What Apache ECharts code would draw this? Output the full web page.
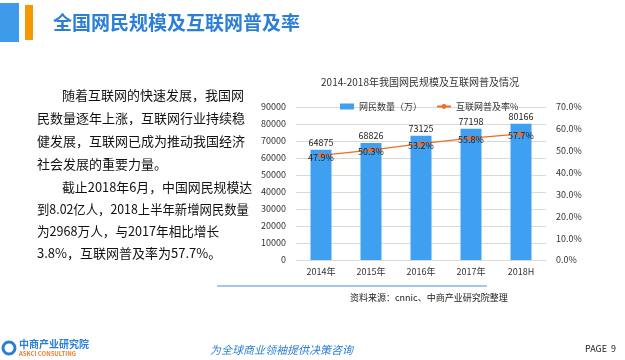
<!DOCTYPE html>
<html><head><meta charset="utf-8">
<script src="https://cdn.jsdelivr.net/npm/echarts@6/dist/echarts.min.js"></script>
<style>html,body{margin:0;padding:0;background:#fff}#c{width:625px;height:360px}</style>
</head><body><div id="c"></div>
<script>
const categories = ['2014年','2015年','2016年','2017年','2018H'];
const netizens = [64875, 68826, 73125, 77198, 80166];
const rate = [47.9, 50.3, 53.2, 55.8, 57.7];
const leftTicks = {min:0, max:90000, interval:10000};
const rightTicks = {min:0, max:70, interval:10};
const paragraphLines = [
  ['随着互联网的快速发展，我国网', 62],
  ['民数量逐年上涨，互联网行业持续稳', 37],
  ['健发展，互联网已成为推动我国经济', 37],
  ['社会发展的重要力量。', 37],
  ['截止2018年6月，中国网民规模达', 62],
  ['到8.02亿人，2018上半年新增网民数量', 37],
  ['为2968万人，与2017年相比增长', 37],
  ['3.8%，互联网普及率为57.7%。', 37]
];
const lineYs = [95,118,141,164,187,209,231,253];
const lineScale = [1,1,1,1,0.99,0.95,0.97,1];
const F = '"Noto Sans CJK SC", "Noto Sans", sans-serif';
const chart = echarts.init(document.getElementById('c'));
const graphics = [
  {type:'rect', shape:{x:0,y:3,width:19,height:39}, style:{fill:'#3d9be9'}},
  {type:'rect', shape:{x:25,y:5,width:8,height:35}, style:{fill:'#f39800'}},
  {type:'text', x:53, y:23, style:{text:'全国网民规模及互联网普及率', fill:'#2b7fd6', font:'bold 19px '+F, textVerticalAlign:'middle'}},
  {type:'line', shape:{x1:217,y1:286,x2:487,y2:286}, style:{stroke:'#4a8ed8', lineWidth:1}},
  {type:'text', x:350, y:298, style:{text:'资料来源：cnnic、中商产业研究院整理', fill:'#222', font:'9px '+F, textVerticalAlign:'middle'}},
  {type:'text', x:19, y:344, style:{text:'中商产业研究院', fill:'#2b7fd6', font:'bold 10px '+F, textVerticalAlign:'middle'}},
  {type:'text', x:19, y:354, style:{text:'ASKCI CONSULTING', fill:'#f07a2a', font:'bold 6px '+F, textVerticalAlign:'middle'}},
  {type:'circle', shape:{cx:9,cy:348,r:6}, style:{fill:'none', stroke:'#2b7fd6', lineWidth:3}},
  {type:'text', x:210, y:350, style:{text:'为全球商业领袖提供决策咨询', fill:'#2b7fd6', font:'italic 11px '+F, textVerticalAlign:'middle'}},
  {type:'text', x:585, y:349, style:{text:'PAGE  9', fill:'#222', font:'9px '+F, textVerticalAlign:'middle'}},
  {type:'text', x:420, y:82, style:{text:'2014-2018年我国网民规模及互联网普及情况', fill:'#333', font:'10px '+F, textAlign:'center', textVerticalAlign:'middle'}}
];
paragraphLines.forEach((l,i)=>{
  graphics.push({type:'text', x:l[1], y:lineYs[i], scaleX:lineScale[i], style:{text:l[0], fill:'#111', font:'13px '+F, textVerticalAlign:'middle'}});
});
chart.setOption({
  animation:false,
  graphic:graphics,
  legend:{top:97, left:335, itemGap:14, itemWidth:14, itemHeight:6,
    textStyle:{fontSize:9, color:'#333', fontFamily:F},
    data:[{name:'网民数量（万）', icon:'rect'}, {name:'互联网普及率%'}]},
  grid:{left:296, right:79, top:107, bottom:100},
  xAxis:{type:'category', data:categories,
    axisLine:{show:true, lineStyle:{color:'#d9d9d9'}}, axisTick:{show:false},
    axisLabel:{fontSize:9, color:'#333', fontFamily:F, margin:7}},
  yAxis:[
    {type:'value', min:leftTicks.min, max:leftTicks.max, interval:leftTicks.interval,
      axisLabel:{fontSize:9, color:'#333', fontFamily:F, margin:10, formatter:v=>String(v)},
      splitLine:{lineStyle:{color:'#d9d9d9'}}, axisLine:{show:false}, axisTick:{show:false}},
    {type:'value', min:rightTicks.min, max:rightTicks.max, interval:rightTicks.interval,
      axisLabel:{fontSize:9, color:'#333', fontFamily:F, margin:10, formatter:v=>v.toFixed(1)+'%'},
      splitLine:{show:false}, axisLine:{show:false}, axisTick:{show:false}}
  ],
  series:[
    {name:'网民数量（万）', type:'bar', data:netizens, barWidth:21,
      itemStyle:{color:'#3f9ff0'},
      label:{show:true, position:'top', distance:3, fontSize:9, color:'#222', fontFamily:F}},
    {name:'互联网普及率%', type:'line', yAxisIndex:1, data:rate,
      symbol:'circle', symbolSize:5, itemStyle:{color:'#f26d21'}, lineStyle:{color:'#f26d21', width:1.2},
      label:{show:true, position:'bottom', distance:-5, fontSize:9, color:'#222', fontFamily:F,
        formatter:p=>p.value.toFixed(1)+'%'}}
  ]
});
</script></body></html>
